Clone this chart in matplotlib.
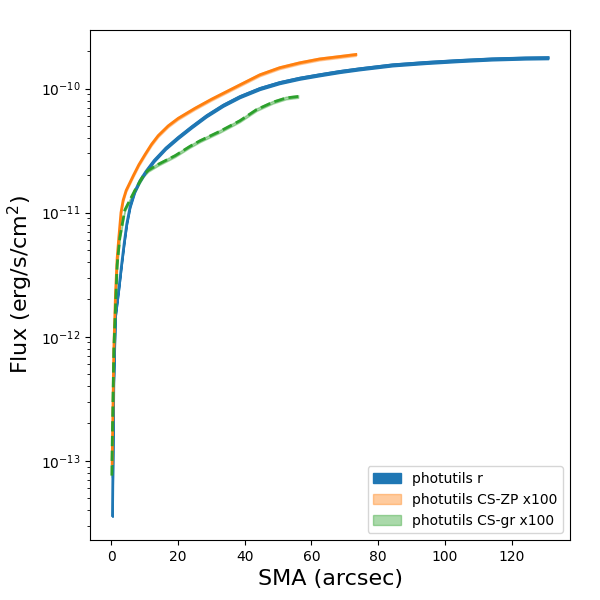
import numpy as np
import matplotlib
matplotlib.use("Agg")
import matplotlib.pyplot as plt

# curve of growth values (SMA in arcsec, flux in erg/s/cm^2)
sma_r = [0.3, 0.7, 1.2, 2.2, 3.0, 3.8, 4.6, 5.6, 7.0, 8.5, 10.3, 12.8, 16.3,
         20.0, 24.0, 28.5, 33.5, 38.5, 44.5, 50.4, 56.4, 62.4, 68.4, 74.3,
         84.3, 94.2, 104.2, 114.1, 124.1, 131.0]
flux_r = [3.63e-14, 4.27e-13, 1.45e-12, 2.4e-12, 3.72e-12, 5.62e-12, 8.13e-12,
          1.12e-11, 1.48e-11, 1.8e-11, 2.14e-11, 2.63e-11, 3.31e-11, 4.03e-11,
          4.9e-11, 6.03e-11, 7.33e-11, 8.6e-11, 1.0e-10, 1.115e-10, 1.21e-10,
          1.29e-10, 1.37e-10, 1.44e-10, 1.55e-10, 1.62e-10, 1.68e-10,
          1.73e-10, 1.76e-10, 1.77e-10]

sma_zp = [0.2, 0.7, 1.2, 1.7, 2.2, 2.85, 3.5, 4.4, 6.6, 8.2, 10.1, 12.0,
          14.0, 17.0, 20.0, 25.0, 30.0, 38.5, 44.5, 50.4, 56.4, 62.4, 68.4,
          73.3]
flux_zp = [9.5e-14, 7.9e-13, 2.2e-12, 4.3e-12, 6.3e-12, 1.0e-11, 1.26e-11,
           1.51e-11, 2.0e-11, 2.43e-11, 2.95e-11, 3.55e-11, 4.17e-11, 5.0e-11,
           5.75e-11, 6.92e-11, 8.2e-11, 1.07e-10, 1.29e-10, 1.47e-10,
           1.61e-10, 1.73e-10, 1.81e-10, 1.88e-10]

sma_gr = [0.1, 0.2, 0.7, 1.7, 2.5, 4.0, 5.5, 7.0, 9.6, 11.0, 14.0, 19.1,
          23.6, 26.6, 32.5, 38.5, 43.5, 48.4, 52.4, 56.0]
flux_gr = [7.6e-14, 1.26e-13, 7.9e-13, 3.8e-12, 6.3e-12, 1.05e-11, 1.26e-11,
           1.51e-11, 2.0e-11, 2.19e-11, 2.45e-11, 2.88e-11, 3.43e-11, 3.8e-11,
           4.52e-11, 5.5e-11, 6.76e-11, 7.76e-11, 8.4e-11, 8.63e-11]

frac_err = 0.025  # width of the shaded bands

fig, ax = plt.subplots(figsize=(6, 6), dpi=100)
fig.subplots_adjust(left=0.15, right=0.95, bottom=0.1, top=0.95)

r = np.array(flux_r)
ax.fill_between(sma_r, r * (1 - frac_err), r * (1 + frac_err), color="C0",
                label="photutils r")
ax.plot(sma_r, r, color="C0", lw=2)

zp = np.array(flux_zp)
ax.fill_between(sma_zp, zp * (1 - frac_err), zp * (1 + frac_err), color="C1",
                alpha=0.4, label="photutils CS-ZP x100")
ax.plot(sma_zp, zp, color="C1", lw=2)

gr = np.array(flux_gr)
ax.fill_between(sma_gr, gr * (1 - frac_err), gr * (1 + frac_err), color="C2",
                alpha=0.4, label="photutils CS-gr x100")
ax.plot(sma_gr, gr, color="C2", lw=2, ls="--")

ax.set_yscale("log")
ax.set_xlabel("SMA (arcsec)", fontsize=16)
ax.set_ylabel(r"Flux (erg/s/cm$^2$)", fontsize=16)
ax.legend(loc="lower right")

fig.savefig("out.png")
